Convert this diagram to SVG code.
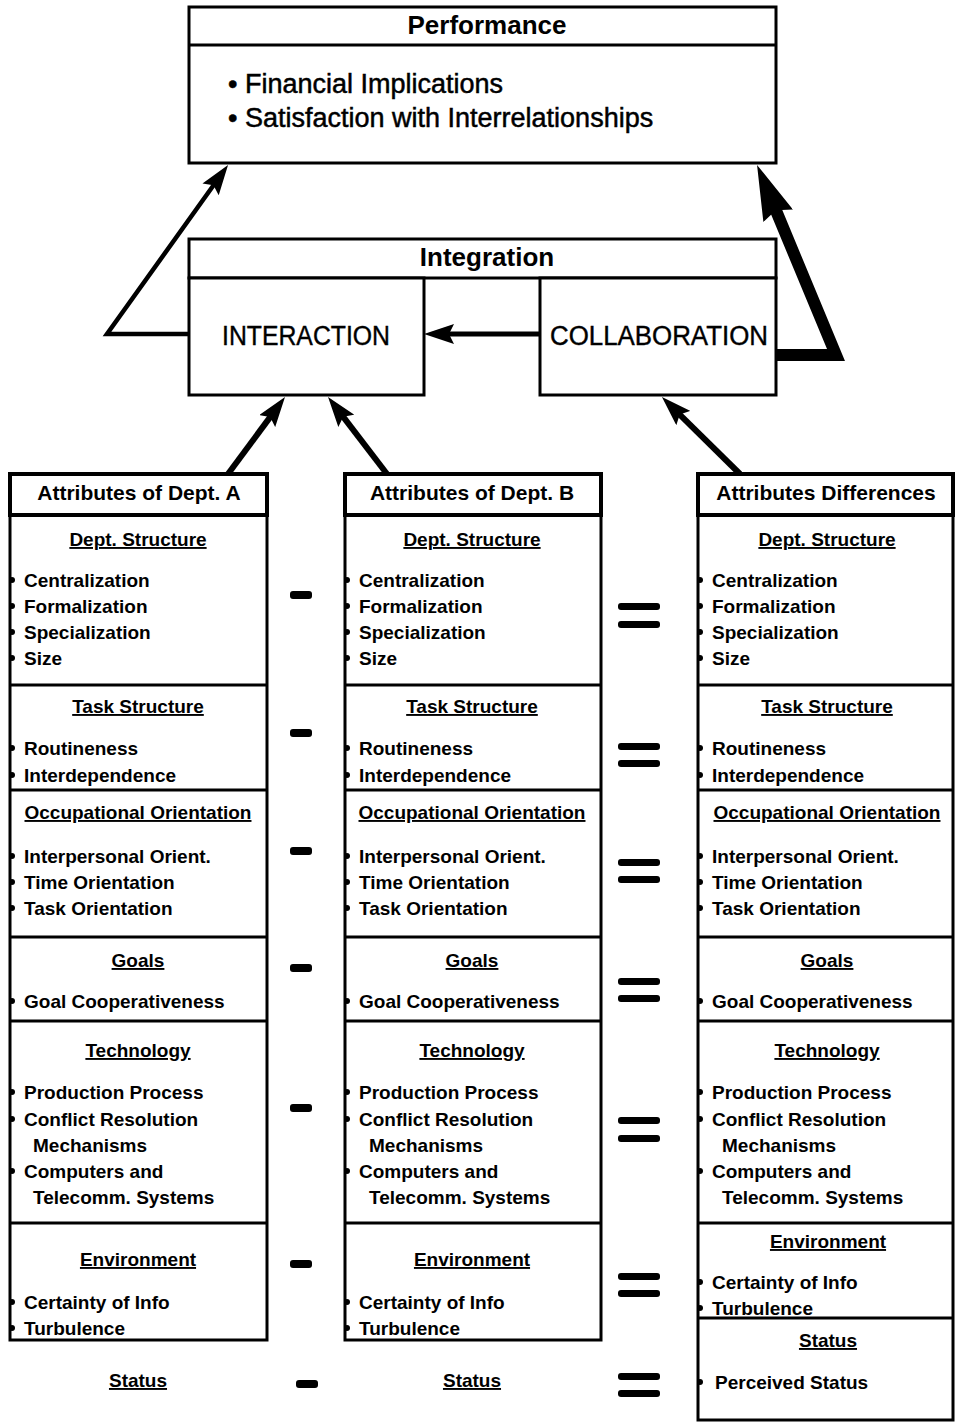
<svg xmlns="http://www.w3.org/2000/svg" width="955" height="1422" viewBox="0 0 955 1422">
<style>
.box{fill:#fff;stroke:#000;stroke-width:3}
.hdr{fill:#fff;stroke:#000;stroke-width:4}
.div{stroke:#000;stroke-width:3}
.f{font-family:"Liberation Sans",Arial,Helvetica,sans-serif;fill:#000}
.big{font-size:26px;font-weight:bold}
.perf{font-size:27px;stroke:#000;stroke-width:0.5}
.cap{font-size:27px;stroke:#000;stroke-width:0.4}
.ch{font-size:21px;font-weight:bold}
.st{font-size:19px;font-weight:bold;text-decoration:underline}
.it{font-size:19px;font-weight:bold}
.b{fill:#000}
.op{fill:#000}
.ln{fill:none;stroke:#000;stroke-linejoin:miter;stroke-miterlimit:10}
</style>
<defs>
<marker id="ah" viewBox="0 0 30 20" refX="10" refY="10" markerWidth="30" markerHeight="20" markerUnits="userSpaceOnUse" orient="auto">
<path d="M0,0 L30,10 L0,20 L5,10 z" fill="#000"/>
</marker>
<marker id="bh" viewBox="0 0 55 32" refX="15" refY="16" markerWidth="55" markerHeight="32" markerUnits="userSpaceOnUse" orient="auto">
<path d="M0,0 L55,16 L0,32 L6,16 z" fill="#000"/>
</marker>
</defs>

<g id="performance">
<rect class="box" x="189" y="7" width="587" height="156"/>
<line class="div" x1="189" y1="45" x2="776" y2="45"/>
<text class="f big" x="487" y="34" text-anchor="middle">Performance</text>
<text class="f perf" x="228" y="93">• Financial Implications</text>
<text class="f perf" x="228" y="127">• Satisfaction with Interrelationships</text>
</g>

<g id="integration">
<rect class="box" x="189" y="239" width="587" height="39"/>
<text class="f big" x="487" y="266" text-anchor="middle">Integration</text>
</g>

<g id="interaction">
<rect class="box" x="189" y="278" width="235" height="117"/>
<text class="f cap" x="222" y="345" textLength="168" lengthAdjust="spacingAndGlyphs">INTERACTION</text>
</g>

<g id="collaboration">
<rect class="box" x="540" y="278" width="236" height="117"/>
<text class="f cap" x="550" y="345" textLength="218" lengthAdjust="spacingAndGlyphs">COLLABORATION</text>
</g>

<g id="connectors">
<polyline class="ln" stroke-width="4.5" points="189,334 107,334 216.4,181.3" marker-end="url(#ah)"/>
<line class="ln" stroke-width="5" x1="540" y1="334" x2="444" y2="334" marker-end="url(#ah)"/>
<polyline class="ln" stroke-width="12" points="777,355 836,355 772.4,201.9" marker-end="url(#bh)"/>
<line class="ln" stroke-width="6" x1="228" y1="474" x2="273.1" y2="413.1" marker-end="url(#ah)"/>
<line class="ln" stroke-width="6" x1="387" y1="474" x2="340.2" y2="412.9" marker-end="url(#ah)"/>
<line class="ln" stroke-width="6" x1="740" y1="474" x2="676.2" y2="411.1" marker-end="url(#ah)"/>
</g>

<g id="deptA">
<rect class="box" x="10" y="515" width="257" height="825"/>
<rect class="hdr" x="10" y="474" width="257" height="41"/>
<line class="div" x1="10" y1="685" x2="267" y2="685"/>
<line class="div" x1="10" y1="790" x2="267" y2="790"/>
<line class="div" x1="10" y1="937" x2="267" y2="937"/>
<line class="div" x1="10" y1="1021" x2="267" y2="1021"/>
<line class="div" x1="10" y1="1223" x2="267" y2="1223"/>
<text class="f ch" x="139" y="500" text-anchor="middle">Attributes of Dept. A</text>
<text class="f st" x="138" y="546" text-anchor="middle">Dept. Structure</text>
<circle class="b" cx="12" cy="580" r="3"/><text class="f it" x="24" y="587">Centralization</text>
<circle class="b" cx="12" cy="606" r="3"/><text class="f it" x="24" y="613">Formalization</text>
<circle class="b" cx="12" cy="632" r="3"/><text class="f it" x="24" y="639">Specialization</text>
<circle class="b" cx="12" cy="658" r="3"/><text class="f it" x="24" y="665">Size</text>
<text class="f st" x="138" y="713" text-anchor="middle">Task Structure</text>
<circle class="b" cx="12" cy="748" r="3"/><text class="f it" x="24" y="755">Routineness</text>
<circle class="b" cx="12" cy="775" r="3"/><text class="f it" x="24" y="782">Interdependence</text>
<text class="f st" x="138" y="819" text-anchor="middle">Occupational Orientation</text>
<circle class="b" cx="12" cy="856" r="3"/><text class="f it" x="24" y="863">Interpersonal Orient.</text>
<circle class="b" cx="12" cy="882" r="3"/><text class="f it" x="24" y="889">Time Orientation</text>
<circle class="b" cx="12" cy="908" r="3"/><text class="f it" x="24" y="915">Task Orientation</text>
<text class="f st" x="138" y="967" text-anchor="middle">Goals</text>
<circle class="b" cx="12" cy="1001" r="3"/><text class="f it" x="24" y="1008">Goal Cooperativeness</text>
<text class="f st" x="138" y="1057" text-anchor="middle">Technology</text>
<circle class="b" cx="12" cy="1092" r="3"/><text class="f it" x="24" y="1099">Production Process</text>
<circle class="b" cx="12" cy="1119" r="3"/><text class="f it" x="24" y="1126">Conflict Resolution</text>
<text class="f it" x="33" y="1152">Mechanisms</text>
<circle class="b" cx="12" cy="1171" r="3"/><text class="f it" x="24" y="1178">Computers and</text>
<text class="f it" x="33" y="1204">Telecomm. Systems</text>
<text class="f st" x="138" y="1266" text-anchor="middle">Environment</text>
<circle class="b" cx="12" cy="1302" r="3"/><text class="f it" x="24" y="1309">Certainty of Info</text>
<circle class="b" cx="12" cy="1328" r="3"/><text class="f it" x="24" y="1335">Turbulence</text>
<text class="f st" x="138" y="1387" text-anchor="middle">Status</text>
</g>

<g id="deptB">
<rect class="box" x="345" y="515" width="256" height="825"/>
<rect class="hdr" x="345" y="474" width="256" height="41"/>
<line class="div" x1="345" y1="685" x2="601" y2="685"/>
<line class="div" x1="345" y1="790" x2="601" y2="790"/>
<line class="div" x1="345" y1="937" x2="601" y2="937"/>
<line class="div" x1="345" y1="1021" x2="601" y2="1021"/>
<line class="div" x1="345" y1="1223" x2="601" y2="1223"/>
<text class="f ch" x="472" y="500" text-anchor="middle">Attributes of Dept. B</text>
<text class="f st" x="472" y="546" text-anchor="middle">Dept. Structure</text>
<circle class="b" cx="347" cy="580" r="3"/><text class="f it" x="359" y="587">Centralization</text>
<circle class="b" cx="347" cy="606" r="3"/><text class="f it" x="359" y="613">Formalization</text>
<circle class="b" cx="347" cy="632" r="3"/><text class="f it" x="359" y="639">Specialization</text>
<circle class="b" cx="347" cy="658" r="3"/><text class="f it" x="359" y="665">Size</text>
<text class="f st" x="472" y="713" text-anchor="middle">Task Structure</text>
<circle class="b" cx="347" cy="748" r="3"/><text class="f it" x="359" y="755">Routineness</text>
<circle class="b" cx="347" cy="775" r="3"/><text class="f it" x="359" y="782">Interdependence</text>
<text class="f st" x="472" y="819" text-anchor="middle">Occupational Orientation</text>
<circle class="b" cx="347" cy="856" r="3"/><text class="f it" x="359" y="863">Interpersonal Orient.</text>
<circle class="b" cx="347" cy="882" r="3"/><text class="f it" x="359" y="889">Time Orientation</text>
<circle class="b" cx="347" cy="908" r="3"/><text class="f it" x="359" y="915">Task Orientation</text>
<text class="f st" x="472" y="967" text-anchor="middle">Goals</text>
<circle class="b" cx="347" cy="1001" r="3"/><text class="f it" x="359" y="1008">Goal Cooperativeness</text>
<text class="f st" x="472" y="1057" text-anchor="middle">Technology</text>
<circle class="b" cx="347" cy="1092" r="3"/><text class="f it" x="359" y="1099">Production Process</text>
<circle class="b" cx="347" cy="1119" r="3"/><text class="f it" x="359" y="1126">Conflict Resolution</text>
<text class="f it" x="369" y="1152">Mechanisms</text>
<circle class="b" cx="347" cy="1171" r="3"/><text class="f it" x="359" y="1178">Computers and</text>
<text class="f it" x="369" y="1204">Telecomm. Systems</text>
<text class="f st" x="472" y="1266" text-anchor="middle">Environment</text>
<circle class="b" cx="347" cy="1302" r="3"/><text class="f it" x="359" y="1309">Certainty of Info</text>
<circle class="b" cx="347" cy="1328" r="3"/><text class="f it" x="359" y="1335">Turbulence</text>
<text class="f st" x="472" y="1387" text-anchor="middle">Status</text>
</g>

<g id="differences">
<rect class="box" x="698" y="515" width="255" height="905"/>
<rect class="hdr" x="698" y="474" width="255" height="41"/>
<line class="div" x1="698" y1="685" x2="953" y2="685"/>
<line class="div" x1="698" y1="790" x2="953" y2="790"/>
<line class="div" x1="698" y1="937" x2="953" y2="937"/>
<line class="div" x1="698" y1="1021" x2="953" y2="1021"/>
<line class="div" x1="698" y1="1223" x2="953" y2="1223"/>
<line class="div" x1="698" y1="1318" x2="953" y2="1318"/>
<text class="f ch" x="826" y="500" text-anchor="middle">Attributes Differences</text>
<text class="f st" x="827" y="546" text-anchor="middle">Dept. Structure</text>
<circle class="b" cx="700" cy="580" r="3"/><text class="f it" x="712" y="587">Centralization</text>
<circle class="b" cx="700" cy="606" r="3"/><text class="f it" x="712" y="613">Formalization</text>
<circle class="b" cx="700" cy="632" r="3"/><text class="f it" x="712" y="639">Specialization</text>
<circle class="b" cx="700" cy="658" r="3"/><text class="f it" x="712" y="665">Size</text>
<text class="f st" x="827" y="713" text-anchor="middle">Task Structure</text>
<circle class="b" cx="700" cy="748" r="3"/><text class="f it" x="712" y="755">Routineness</text>
<circle class="b" cx="700" cy="775" r="3"/><text class="f it" x="712" y="782">Interdependence</text>
<text class="f st" x="827" y="819" text-anchor="middle">Occupational Orientation</text>
<circle class="b" cx="700" cy="856" r="3"/><text class="f it" x="712" y="863">Interpersonal Orient.</text>
<circle class="b" cx="700" cy="882" r="3"/><text class="f it" x="712" y="889">Time Orientation</text>
<circle class="b" cx="700" cy="908" r="3"/><text class="f it" x="712" y="915">Task Orientation</text>
<text class="f st" x="827" y="967" text-anchor="middle">Goals</text>
<circle class="b" cx="700" cy="1001" r="3"/><text class="f it" x="712" y="1008">Goal Cooperativeness</text>
<text class="f st" x="827" y="1057" text-anchor="middle">Technology</text>
<circle class="b" cx="700" cy="1092" r="3"/><text class="f it" x="712" y="1099">Production Process</text>
<circle class="b" cx="700" cy="1119" r="3"/><text class="f it" x="712" y="1126">Conflict Resolution</text>
<text class="f it" x="722" y="1152">Mechanisms</text>
<circle class="b" cx="700" cy="1171" r="3"/><text class="f it" x="712" y="1178">Computers and</text>
<text class="f it" x="722" y="1204">Telecomm. Systems</text>
<text class="f st" x="828" y="1248" text-anchor="middle">Environment</text>
<circle class="b" cx="700" cy="1282" r="3"/><text class="f it" x="712" y="1289">Certainty of Info</text>
<circle class="b" cx="700" cy="1308" r="3"/><text class="f it" x="712" y="1315">Turbulence</text>
<text class="f st" x="828" y="1347" text-anchor="middle">Status</text>
<circle class="b" cx="700" cy="1382" r="3"/><text class="f it" x="715" y="1389">Perceived Status</text>
</g>

<g id="operators">
<rect class="op" x="290" y="591" width="22" height="8" rx="3"/>
<rect class="op" x="290" y="729" width="22" height="8" rx="3"/>
<rect class="op" x="290" y="847" width="22" height="8" rx="3"/>
<rect class="op" x="290" y="964" width="22" height="8" rx="3"/>
<rect class="op" x="290" y="1104" width="22" height="8" rx="3"/>
<rect class="op" x="290" y="1260" width="22" height="8" rx="3"/>
<rect class="op" x="296" y="1380" width="22" height="8" rx="3"/>
<rect class="op" x="618" y="603" width="42" height="7" rx="3"/><rect class="op" x="618" y="621" width="42" height="7" rx="3"/>
<rect class="op" x="618" y="743" width="42" height="7" rx="3"/><rect class="op" x="618" y="760" width="42" height="7" rx="3"/>
<rect class="op" x="618" y="859" width="42" height="7" rx="3"/><rect class="op" x="618" y="876" width="42" height="7" rx="3"/>
<rect class="op" x="618" y="978" width="42" height="7" rx="3"/><rect class="op" x="618" y="995" width="42" height="7" rx="3"/>
<rect class="op" x="618" y="1117" width="42" height="7" rx="3"/><rect class="op" x="618" y="1135" width="42" height="7" rx="3"/>
<rect class="op" x="618" y="1273" width="42" height="7" rx="3"/><rect class="op" x="618" y="1290" width="42" height="7" rx="3"/>
<rect class="op" x="618" y="1373" width="42" height="7" rx="3"/><rect class="op" x="618" y="1390" width="42" height="7" rx="3"/>
</g>
</svg>
